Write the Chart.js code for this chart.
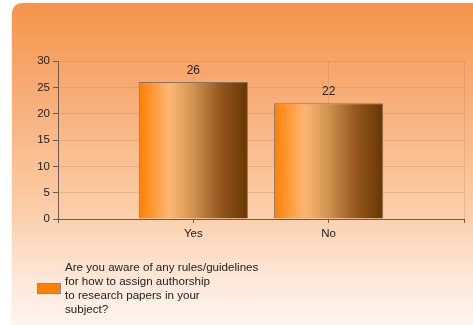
<!DOCTYPE html>
<html>
<head>
<meta charset="utf-8">
<script src="https://cdn.jsdelivr.net/npm/chart.js@4/dist/chart.umd.min.js"></script>
<style>
  body { margin: 0; background: #fff; font-family: "Liberation Sans", Arial, sans-serif; }
  #wrap { position: relative; width: 473px; height: 325px; overflow: hidden; }
  #card {
    position: absolute; left: 12px; top: 3px; width: 480px; height: 340px;
    border-radius: 10px;
    box-shadow: 0 0 1px rgba(0,0,0,0.25);
    background: linear-gradient(#f5944a 0%, #f8b07c 30%, #fbcca6 60%, #fde6d6 80%, #fffaf7 100%);
  }
  #chart { position: absolute; left: 0; top: 0; }
  #legend { position: absolute; left: 37px; top: 260px; color: #222; font-size: 11.6px; line-height: 14px; }
  #legend .box { position: absolute; left: 0; top: 23px; width: 22px; height: 9px; background: #ff8000; border: 1px solid #8a8a8a; }
  #legend .txt { position: absolute; left: 28px; top: 0; white-space: nowrap; }
</style>
</head>
<body>
<div id="wrap">
  <div id="card"></div>
  <canvas id="chart" width="473" height="325"></canvas>
  <div id="legend">
    <div class="box"></div>
    <div class="txt">Are you aware of any rules/guidelines<br>for how to assign authorship<br>to research papers in your<br>subject?</div>
  </div>
</div>
<script>
// answers and counts
var answers = ["Yes", "No"];
var counts = [26, 22];
var yTicks = [0, 5, 10, 15, 20, 25, 30];

// blank slot on each side so the bars sit on the inner ticks
var xLabels = [""].concat(answers).concat([""]);
var xData = [null].concat(counts).concat([null]);

var barPct = 0.807;
var axisColor = "#6e5c50";
var gridColor = "rgba(200,125,85,0.3)";
var font = { family: "'Liberation Sans', Arial, sans-serif", size: 11.5 };

// horizontal orange -> brown shading across each bar
function barGradient(c) {
  var chart = c.chart;
  var x = chart.scales.x;
  if (!x || c.dataIndex == null) return "#ff8000";
  var cx = x.getPixelForValue(c.dataIndex);
  var half = (x.getPixelForValue(1) - x.getPixelForValue(0)) * barPct / 2;
  if (!isFinite(cx) || !isFinite(half) || half <= 0) return "#ff8000";
  var g = chart.ctx.createLinearGradient(cx - half, 0, cx + half, 0);
  g.addColorStop(0, "#ff7f00");
  g.addColorStop(0.28, "#fdb774");
  g.addColorStop(0.5, "#d0924f");
  g.addColorStop(0.75, "#95561f");
  g.addColorStop(1, "#673600");
  return g;
}

// value on top of each bar
var valueLabels = {
  id: "valueLabels",
  afterDatasetsDraw: function(chart) {
    var ctx = chart.ctx;
    var meta = chart.getDatasetMeta(0);
    ctx.save();
    ctx.fillStyle = "#222";
    ctx.font = "12px 'Liberation Sans', Arial, sans-serif";
    ctx.textAlign = "center";
    ctx.textBaseline = "bottom";
    meta.data.forEach(function(bar, i) {
      var v = chart.data.datasets[0].data[i];
      if (v == null) return;
      ctx.fillText(v, bar.x, bar.y - 5);
    });
    ctx.restore();
  }
};

new Chart("chart", {
  type: "bar",
  data: {
    labels: xLabels,
    datasets: [{
      data: xData,
      backgroundColor: barGradient,
      borderColor: "#8a7262",
      borderWidth: 1,
      barPercentage: barPct,
      categoryPercentage: 1
    }]
  },
  options: {
    responsive: false,
    animation: false,
    layout: { padding: { top: 61, right: 9, left: 0, bottom: 0 } },
    plugins: { legend: { display: false }, tooltip: { enabled: false } },
    scales: {
      x: {
        offset: false,
        grid: { offset: false, color: gridColor, tickColor: axisColor, tickLength: 4 },
        border: { color: axisColor },
        ticks: { color: "#222", font: font, padding: 4, maxRotation: 0, autoSkip: false },
        afterFit: function(s) { s.height = 106; }
      },
      y: {
        min: 0,
        max: 30,
        afterBuildTicks: function(s) { s.ticks = yTicks.map(function(v) { return { value: v }; }); },
        grid: { color: gridColor, tickColor: axisColor, tickLength: 5 },
        border: { color: axisColor },
        ticks: { color: "#222", font: font, padding: 3 },
        afterFit: function(s) { s.width = 58; }
      }
    }
  },
  plugins: [valueLabels]
});
</script>
</body>
</html>
